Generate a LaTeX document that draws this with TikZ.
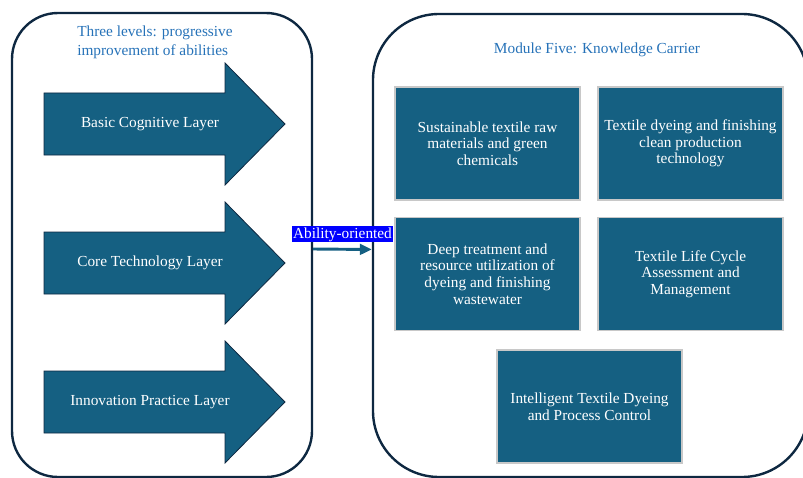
\documentclass[tikz,border=0pt]{standalone}
\usepackage{fontspec}
\setmainfont{Liberation Serif}
\usetikzlibrary{arrows.meta}
\definecolor{blockteal}{HTML}{156082}
\definecolor{framenavy}{HTML}{0E2841}
\definecolor{headblue}{HTML}{2672B8}
\definecolor{boxgray}{HTML}{C8C8C8}
\definecolor{labelblue}{HTML}{0000FF}
\begin{document}
\begin{tikzpicture}[x=0.75pt, y=-0.75pt,
  panel/.style={draw=framenavy, line width=1.8pt, rounded corners=#1, inner sep=0pt},
  layer/.style={fill=blockteal, draw=framenavy, line width=0.6pt},
  layertext/.style={text=white, font=\fontsize{11.5}{13}\selectfont},
  carrier/.style={fill=blockteal, draw=boxgray, line width=0.8pt, text=white, align=center,
    minimum width=138.75pt, minimum height=84.75pt, font=\fontsize{11.5}{12.4}\selectfont},
  heading/.style={text=headblue, inner sep=0pt, font=\fontsize{11.5}{14.25}\selectfont},
  flow/.style={draw=blockteal, line width=2.2pt, -{Triangle[length=9pt,width=8pt]}},
  tag/.style={fill=labelblue, text=white, inner xsep=1pt, inner ysep=0.8pt, font=\fontsize{11.5}{13}\selectfont}]
\useasboundingbox (0,0) rectangle (803,478);
\clip (0,0) rectangle (803,478);
\node[panel=34.5pt, minimum width=225pt, minimum height=348pt] (levels) at (162,245) {};
\node[panel=49.5pt, minimum width=326.25pt, minimum height=347.25pt] (module) at (590.5,245.5) {};
\node[heading, anchor=west, align=left] (levelstitle) at (77,42.5) {Three levels: progressive\\improvement of abilities};
\node[heading] (moduletitle) at (597,50) {Module Five: Knowledge Carrier};
\foreach \y/\name/\txt in {124/basic/Basic Cognitive Layer, 263/core/Core Technology Layer, 402/innov/Innovation Practice Layer}{
  \draw[layer] (44,\y-31) -- (225,\y-31) -- (225,\y-61) -- (285,\y) -- (225,\y+61) -- (225,\y+31) -- (44,\y+31) -- cycle;
  \node[layertext] (\name) at (150,\y) {\txt};
}
\node[carrier] (raw) at (487.5,143.5) {Sustainable textile raw\\materials and green\\chemicals};
\node[carrier] (clean) at (690.5,143.5) {Textile dyeing and finishing\\clean production\\technology};
\node[carrier] (waste) at (487.5,274) {Deep treatment and\\resource utilization of\\dyeing and finishing\\wastewater};
\node[carrier] (lca) at (690.5,274) {Textile Life Cycle\\Assessment and\\Management};
\node[carrier] (control) at (589.5,406.5) {Intelligent Textile Dyeing\\and Process Control};
\draw[flow] ([yshift=-3pt]levels.east) -- node[tag, above=4pt] {Ability-oriented} ([yshift=-3pt]module.west);
\end{tikzpicture}
\end{document}
